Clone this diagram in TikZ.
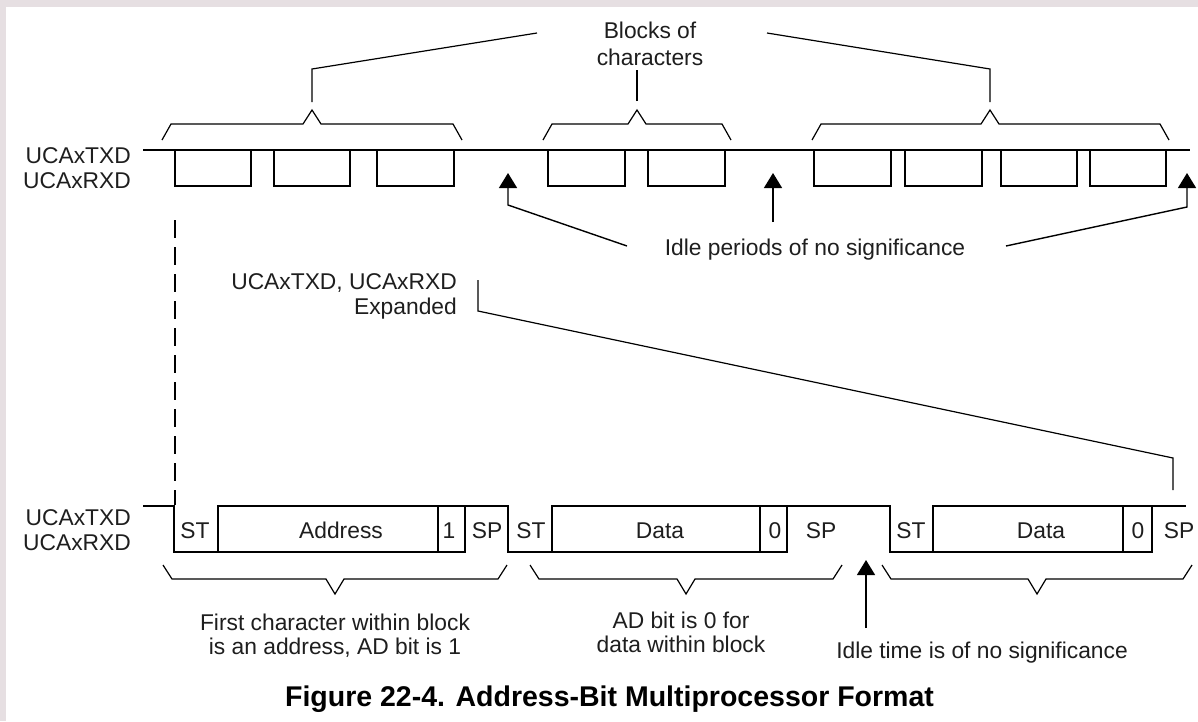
\documentclass[tikz,border=0pt]{standalone}
\usepackage{fontspec}
\setmainfont{Liberation Sans}
\usetikzlibrary{arrows.meta}
\definecolor{ink}{HTML}{1E1E1E}
\definecolor{slide}{HTML}{E6DFE2}
% brace above the top trace: left end, right end, centre
\newcommand\sigTopBrace[3]{%
  \draw[brace] (#1,140) -- ({#1+9},124) -- ({#3-9},124) -- (#3,110)
    -- ({#3+9},124) -- ({#2-9},124) -- (#2,140);}
% brace below the expanded trace: left end, right end, centre
\newcommand\sigLowBrace[3]{%
  \draw[brace] (#1,565) -- ({#1+9},579) -- ({#3-9},579) -- (#3,594)
    -- ({#3+9},579) -- ({#2-9},579) -- (#2,565);}
% one character pulse on the top trace
\newcommand\sigPulse[2]{\draw[trace] (#1,150) -- (#1,186) -- (#2,186) -- (#2,150);}
\begin{document}
\begin{tikzpicture}[x=1pt,y=-1pt,
  trace/.style={line width=2.8pt, line join=miter},
  brace/.style={line width=1.2pt, line join=miter},
  lead/.style={line width=1.2pt, line join=miter},
  pointer/.style={line width=1.4pt, line join=miter, -{Triangle[length=15pt,width=18pt]}},
  lbl/.style={font=\fontsize{22.8}{25}\selectfont, text=ink, inner sep=0pt},
  bit/.style={lbl, anchor=base},
  ]
% page
\fill[slide] (0,0) rectangle (1198,721);
\fill[white] (6,7) rectangle (1198,721);
\useasboundingbox (0,0) rectangle (1198,721);

% ---------- compressed view ----------
\node[lbl, align=right, anchor=north east] (topsig) at (131,147) {UCAxTXD\\UCAxRXD};
\draw[trace] (143,150) -- (1190,150);
\sigPulse{175}{251}\sigPulse{274}{350}\sigPulse{377}{454}
\sigPulse{548}{625}\sigPulse{648}{725}
\sigPulse{814}{891}\sigPulse{905}{982}\sigPulse{1001}{1077}\sigPulse{1090}{1166}

\sigTopBrace{162}{462}{312}
\sigTopBrace{543}{731}{637}
\sigTopBrace{812}{1169}{990}

\node[lbl, align=center, anchor=north, font=\fontsize{22.8}{27}\selectfont] (blocks) at (650,21.5) {Blocks of\\characters};
\coordinate (blkL) at (537,33);
\coordinate (blkR) at (767,33);
\draw[lead] (312,102) -- (312,69) -- (blkL);
\draw[lead] (637,101) -- (637,70);
\draw[lead] (990,102) -- (990,69) -- (blkR);

\node[bit] (idle) at (815,255) {Idle periods of no significance};
\coordinate (idleL) at (627,246);
\coordinate (idleR) at (1006,246);
\draw[pointer] (idleL) -- (508,205) -- (508,173);
\draw[pointer] (773,222) -- (773,173);
\draw[pointer] (idleR) -- (1187,207) -- (1187,173);

% marker of the first character, carried down
\draw[line width=1.2pt, dash pattern=on 18pt off 9pt] (175,220) -- (175,505);

% ---------- expanded view ----------
\node[lbl, align=right, anchor=north east] (expd) at (457,273) {UCAxTXD, UCAxRXD\\Expanded};
\draw[lead] (478,280) -- (478,311) -- (1173,458) -- (1173,490);

\node[lbl, align=right, anchor=north east] (lowsig) at (131,509) {UCAxTXD\\UCAxRXD};
\draw[trace] (143,506) -- (174,506) -- (174,552) -- (465,552) -- (465,506) -- (508,506)
  -- (508,552) -- (787,552) -- (787,506) -- (890,506) -- (890,552) -- (1152,552)
  -- (1152,506) -- (1186,506);
\draw[trace] (218,552) -- (218,506) -- (465,506);
\draw[trace] (438,506) -- (438,552);
\draw[trace] (552,552) -- (552,506) -- (787,506);
\draw[trace] (760,506) -- (760,552);
\draw[trace] (933,552) -- (933,506) -- (1152,506);
\draw[trace] (1123,506) -- (1123,552);

\node[bit] (st1) at (195,538) {ST};
\node[bit] (addr) at (341,538) {Address};
\node[bit] (ad1) at (449,538) {1};
\node[bit] (sp1) at (487,538) {SP};
\node[bit] (st2) at (531,538) {ST};
\node[bit] (dat2) at (660,538) {Data};
\node[bit] (ad2) at (775,538) {0};
\node[bit] (sp2) at (821,538) {SP};
\node[bit] (st3) at (911,538) {ST};
\node[bit] (dat3) at (1041,538) {Data};
\node[bit] (ad3) at (1138,538) {0};
\node[bit] (sp3) at (1179,538) {SP};

\sigLowBrace{163}{507}{335}
\sigLowBrace{530}{842}{686}
\sigLowBrace{882}{1192}{1037}

\node[lbl, align=center, anchor=north, font=\fontsize{22.8}{24}\selectfont] (first) at (335,613.5)
  {First character within block\\is an address, AD bit is 1};
\node[lbl, align=center, anchor=north, font=\fontsize{22.8}{24}\selectfont] (adzero) at (681,611.5)
  {AD bit is 0 for\\data within block};
\node[bit] (idletime) at (982,658) {Idle time is of no significance};
\draw[pointer] (866,628) -- (866,560);

\node[anchor=base, inner sep=0pt, text=black, font=\bfseries\fontsize{28.5}{30}\selectfont] (title) at (609.5,706)
  {Figure 22-4. Address-Bit Multiprocessor Format};
\end{tikzpicture}
\end{document}
